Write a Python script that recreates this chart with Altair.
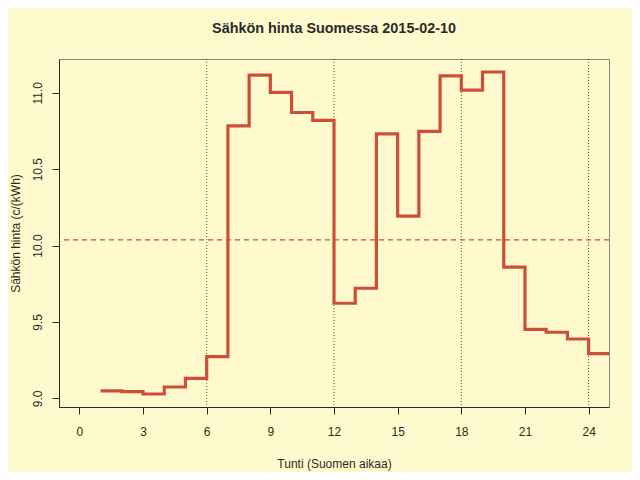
import altair as alt
import pandas as pd

# hourly prices (c/kWh), hour 1..24, step drawn to hour 25
hours = list(range(1, 26))
price = [9.049, 9.044, 9.029, 9.075, 9.131, 9.273, 10.784, 11.116, 11.003, 10.871,
         10.819, 9.623, 9.721, 10.731, 10.193, 10.747, 11.111, 11.018, 11.136, 9.859,
         9.452, 9.433, 9.389, 9.293]
price_steps = price + [price[-1]]
guide_hours = [6, 12, 18, 24]
x_ticks = [0, 3, 6, 9, 12, 15, 18, 21, 24]
y_ticks = [9.0, 9.5, 10.0, 10.5, 11.0]
mean_price = sum(price) / len(price)

RED = "#CD4F39"
INK = "#2a2a2a"
FONT = "Liberation Sans"

df = pd.DataFrame({"hour": hours, "price": price_steps})
df_guides = pd.DataFrame({"hour": guide_hours})
df_mean = pd.DataFrame({"mean": [mean_price]})

xscale = alt.Scale(domain=[-0.96, 24.96], nice=False, zero=False)
yscale = alt.Scale(domain=[8.944, 11.221], nice=False, zero=False)

xaxis = alt.Axis(values=x_ticks, title="Tunti (Suomen aikaa)", grid=False,
                 tickSize=7, labelPadding=21, labelBaseline="alphabetic",
                 labelFontSize=12, titleFontSize=12, titleFontWeight="normal",
                 titleY=60, titleBaseline="alphabetic",
                 domainColor=INK, tickColor=INK, labelColor=INK, titleColor=INK,
                 labelFont=FONT, titleFont=FONT, labelFlush=False)
yaxis = alt.Axis(values=y_ticks, format=".1f", title="Sähkön hinta (c/(kWh)", grid=False,
                 tickSize=7, labelAngle=270, labelAlign="center", labelBaseline="bottom",
                 labelPadding=8, labelFontSize=12, titleFontSize=12, titleFontWeight="normal",
                 titleX=-37,
                 domainColor=INK, tickColor=INK, labelColor=INK, titleColor=INK,
                 labelFont=FONT, titleFont=FONT, labelFlush=False)

guides = alt.Chart(df_guides).mark_rule(color="#555555", strokeWidth=1, strokeDash=[1, 2]).encode(
    x=alt.X("hour:Q", scale=xscale, axis=xaxis)
)

mean_line = alt.Chart(df_mean).mark_rule(color=RED, strokeWidth=1.4, strokeDash=[5, 4]).encode(
    y=alt.Y("mean:Q", scale=yscale, axis=yaxis)
)

step = alt.Chart(df).mark_line(interpolate="step-after", color=RED, strokeWidth=3.2, clip=True).encode(
    x=alt.X("hour:Q", scale=xscale, axis=xaxis),
    y=alt.Y("price:Q", scale=yscale, axis=yaxis),
)

chart = alt.layer(guides, mean_line, step).properties(
    width=550,
    height=348,
    title=alt.TitleParams("Sähkön hinta Suomessa 2015-02-10", font=FONT, fontSize=14.4,
                          fontWeight="bold", color=INK, anchor="middle", offset=11,
                          baseline="alphabetic"),
    autosize=alt.AutoSizeParams(type="none"),
    padding={"left": 51, "top": 51, "right": 23, "bottom": 65},
).configure(background="#FFFACD").configure_view(stroke="#888888", strokeWidth=1, fill="#FFFACD")

chart.save("out.html", embed_options={"renderer": "svg", "actions": False})
